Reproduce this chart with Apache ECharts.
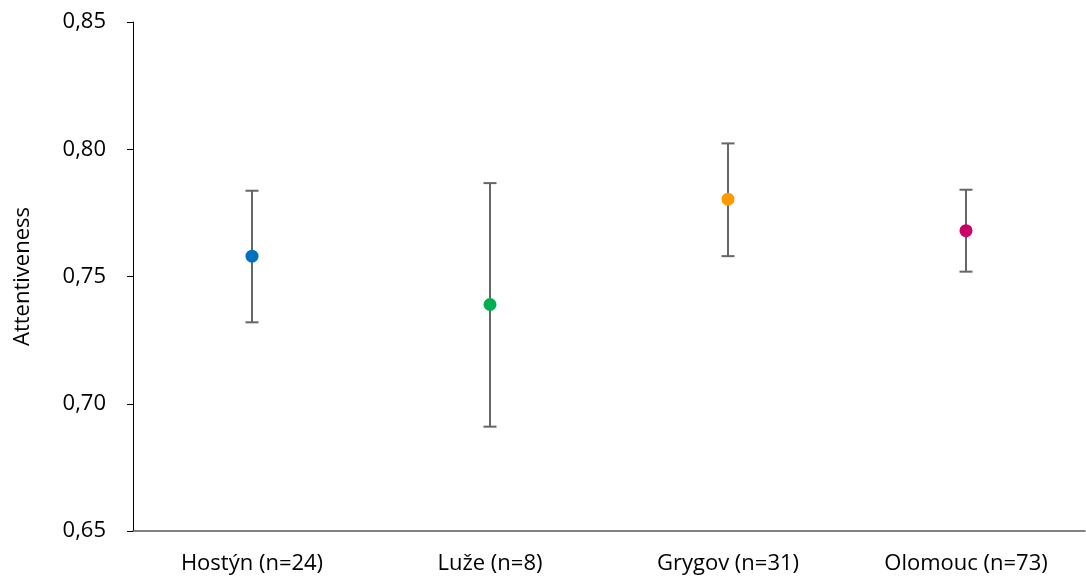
<!DOCTYPE html>
<html>
<head>
<meta charset="utf-8">
<script src="https://cdn.jsdelivr.net/npm/echarts@6/dist/echarts.min.js"></script>
<style>
  html, body { margin: 0; padding: 0; background: #fff; }
  #chart { width: 1086px; height: 580px; }
</style>
</head>
<body>
<div id="chart"></div>
<script>
// Group labels along the x axis
const categories = ['Hostýn (n=24)', 'Luže (n=8)', 'Grygov (n=31)', 'Olomouc (n=73)'];
// Mean attentiveness per group
const means = [0.758, 0.739, 0.7804, 0.768];
// Upper and lower ends of the error bars
const upper = [0.7837, 0.7867, 0.8023, 0.7841];
const lower = [0.732, 0.691, 0.758, 0.7519];
// Marker colour for each group
const colors = ['#0070C0', '#00B050', '#FF9900', '#CC0066'];
// Y axis range and step
const yMin = 0.65, yMax = 0.85, yStep = 0.05;

const FONT = '"Open Sans", "Noto Sans", sans-serif';

const chart = echarts.init(document.getElementById('chart'), null, { renderer: 'canvas' });

const errorData = categories.map((c, i) => [i, lower[i], upper[i]]);
const pointData = categories.map((c, i) => ({
  value: [i, means[i]],
  itemStyle: { color: colors[i], opacity: 1 }
}));

chart.setOption({
  animation: false,
  backgroundColor: '#ffffff',
  grid: { left: 133, right: 1, top: 22, bottom: 49, containLabel: false },
  xAxis: {
    type: 'category',
    data: categories,
    boundaryGap: true,
    axisLine: { show: true, lineStyle: { color: '#595959', width: 1.5 } },
    axisTick: { show: false },
    axisLabel: { color: '#000', fontFamily: FONT, fontSize: 22, margin: 22 },
    splitLine: { show: false }
  },
  yAxis: {
    type: 'value',
    min: yMin,
    max: yMax,
    interval: yStep,
    name: 'Attentiveness',
    nameLocation: 'middle',
    nameGap: 99,
    nameTextStyle: { color: '#000', fontFamily: FONT, fontSize: 22 },
    axisLine: { show: true, lineStyle: { color: '#000', width: 1 } },
    axisTick: { show: true, length: 6, lineStyle: { color: '#000', width: 1 } },
    axisLabel: {
      color: '#000', fontFamily: FONT, fontSize: 22, margin: 27,
      formatter: v => v.toFixed(2).replace('.', ',')
    },
    splitLine: { show: false }
  },
  series: [
    {
      type: 'custom',
      name: 'error',
      data: errorData,
      z: 2,
      renderItem: function (params, api) {
        const x = api.value(0);
        const lo = api.coord([x, api.value(1)]);
        const hi = api.coord([x, api.value(2)]);
        const half = 6.5;
        const style = { stroke: '#666666', lineWidth: 2, fill: null };
        return {
          type: 'group',
          children: [
            { type: 'line', shape: { x1: hi[0], y1: hi[1], x2: lo[0], y2: lo[1] }, style },
            { type: 'line', shape: { x1: hi[0] - half, y1: hi[1], x2: hi[0] + half, y2: hi[1] }, style },
            { type: 'line', shape: { x1: lo[0] - half, y1: lo[1], x2: lo[0] + half, y2: lo[1] }, style }
          ]
        };
      }
    },
    {
      type: 'scatter',
      name: 'mean',
      data: pointData,
      symbol: 'circle',
      symbolSize: 13,
      itemStyle: { opacity: 1 },
      z: 3
    }
  ]
});
</script>
</body>
</html>
